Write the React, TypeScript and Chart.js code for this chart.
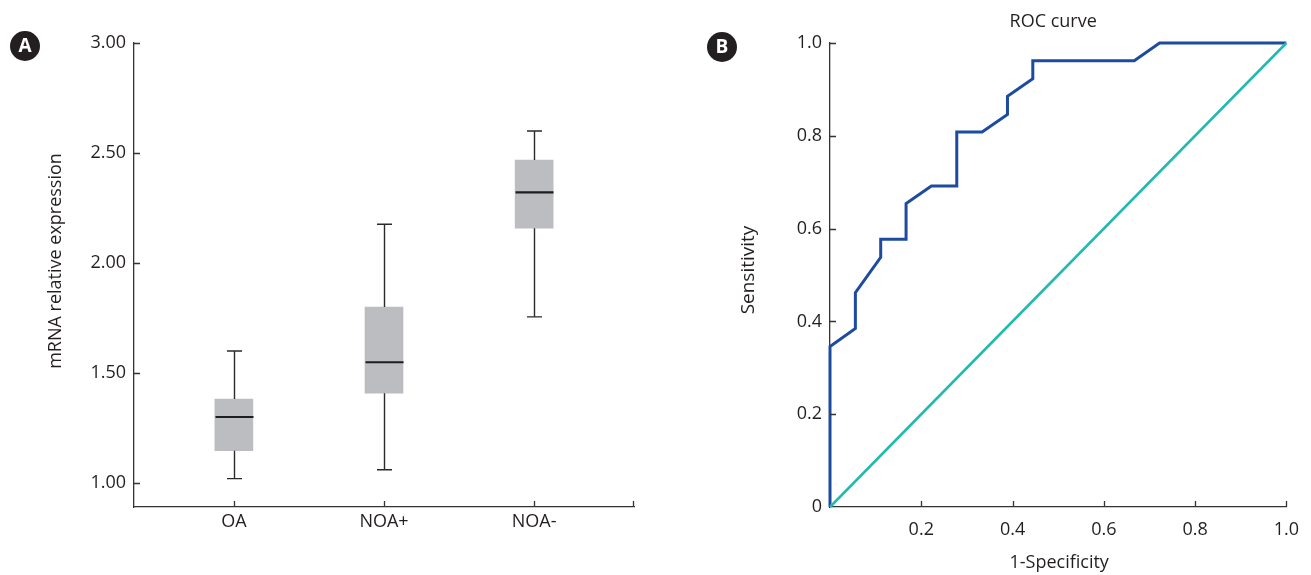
import React, { useEffect, useRef } from "react";
import { Chart, registerables } from "chart.js";
Chart.register(...registerables);

const FONT = '"Open Sans", "Noto Sans", sans-serif';
const TEXT = "#231f20";
const AXIS = "#333333";

// Panel A: box plot
const groups = ["OA", "NOA+", "NOA-"];
const groupPos = [1, 2, 3];
const whiskerLow = [1.02, 1.06, 1.755];
const q1 = [1.147, 1.408, 2.158];
const median = [1.3, 1.549, 2.321];
const q3 = [1.382, 1.8, 2.468];
const whiskerHigh = [1.6, 2.176, 2.6];
const boxTicks = [1.0, 1.5, 2.0, 2.5, 3.0];

// Panel B: ROC curve
const fpr = [0, 0, 0.0556, 0.0556, 0.1111, 0.1111, 0.1667, 0.1667, 0.2222, 0.2778, 0.2778, 0.3333, 0.3889, 0.3889, 0.4444, 0.4444, 0.6667, 0.7222, 1.0];
const tpr = [0, 0.346, 0.385, 0.462, 0.538, 0.577, 0.577, 0.654, 0.692, 0.692, 0.808, 0.808, 0.846, 0.885, 0.923, 0.962, 0.962, 1.0, 1.0];
const chanceX = [0, 1];
const chanceY = [0, 1];
const rocYTicks = [0, 0.2, 0.4, 0.6, 0.8, 1.0];
const rocXTicks = [0.2, 0.4, 0.6, 0.8, 1.0];

function inwardTicksPlugin(xVals: () => number[], yVals: () => number[], extraRightTick: boolean) {
  return {
    id: "inwardTicks",
    afterDraw(chart: any) {
      const { ctx, chartArea: ca } = chart;
      const xs = chart.scales.x;
      const ys = chart.scales.y;
      ctx.save();
      ctx.strokeStyle = AXIS;
      ctx.lineWidth = 1.3;
      ctx.beginPath();
      for (const v of xVals()) {
        const px = Math.round(xs.getPixelForValue(v)) + 0.5;
        ctx.moveTo(px, ca.bottom);
        ctx.lineTo(px, ca.bottom - 6);
      }
      if (extraRightTick) {
        const px = Math.round(ca.right) - 0.5;
        ctx.moveTo(px, ca.bottom);
        ctx.lineTo(px, ca.bottom - 6);
      }
      for (const v of yVals()) {
        const py = Math.round(ys.getPixelForValue(v)) + 0.5;
        ctx.moveTo(ca.left, py);
        ctx.lineTo(ca.left + 6, py);
      }
      ctx.stroke();
      ctx.restore();
    },
  };
}

function panelLabel(ctx: CanvasRenderingContext2D, letter: string, cx: number, cy: number) {
  ctx.save();
  ctx.fillStyle = "#231f20";
  ctx.beginPath();
  ctx.arc(cx, cy, 15, 0, Math.PI * 2);
  ctx.fill();
  ctx.fillStyle = "#ffffff";
  ctx.font = `bold 19px ${FONT}`;
  ctx.textAlign = "center";
  ctx.textBaseline = "middle";
  ctx.fillText(letter, cx, cy + 1);
  ctx.restore();
}

function BoxChart() {
  const ref = useRef<HTMLCanvasElement>(null);
  useEffect(() => {
    const canvas = ref.current!;
    const whiskerPlugin = {
      id: "whiskers",
      afterDatasetsDraw(chart: any) {
        const { ctx } = chart;
        const xs = chart.scales.x;
        const ys = chart.scales.y;
        ctx.save();
        for (let i = 0; i < groupPos.length; i++) {
          const px = Math.round(xs.getPixelForValue(groupPos[i])) + 0.5;
          const yLo = ys.getPixelForValue(whiskerLow[i]);
          const yQ1 = ys.getPixelForValue(q1[i]);
          const yQ3 = ys.getPixelForValue(q3[i]);
          const yHi = ys.getPixelForValue(whiskerHigh[i]);
          const yMed = ys.getPixelForValue(median[i]);
          ctx.strokeStyle = "#2a2a2a";
          ctx.lineWidth = 1.4;
          ctx.beginPath();
          ctx.moveTo(px, yLo);
          ctx.lineTo(px, yQ1);
          ctx.moveTo(px, yQ3);
          ctx.lineTo(px, yHi);
          ctx.moveTo(px - 7.5, yLo);
          ctx.lineTo(px + 7.5, yLo);
          ctx.moveTo(px - 7.5, yHi);
          ctx.lineTo(px + 7.5, yHi);
          ctx.stroke();
          ctx.strokeStyle = "#1e1e1e";
          ctx.lineWidth = 2.2;
          ctx.beginPath();
          ctx.moveTo(px - 19, yMed);
          ctx.lineTo(px + 19, yMed);
          ctx.stroke();
        }
        ctx.restore();
      },
    };
    const textPlugin = {
      id: "texts",
      afterDraw(chart: any) {
        const { ctx } = chart;
        ctx.save();
        ctx.fillStyle = TEXT;
        ctx.font = `18px ${FONT}`;
        ctx.textAlign = "center";
        ctx.textBaseline = "middle";
        ctx.translate(56, 261);
        ctx.rotate(-Math.PI / 2);
        ctx.fillText("mRNA relative expression", 0, 0);
        ctx.restore();
        panelLabel(ctx, "A", 25, 46);
      },
    };
    const chart = new Chart(canvas, {
      type: "bar",
      data: {
        datasets: [
          {
            data: groupPos.map((p, i) => ({ x: p, y: [q1[i], q3[i]] })) as any,
            backgroundColor: "#bcbdc1",
            borderWidth: 0,
            barThickness: 38,
          },
        ],
      },
      options: {
        animation: false,
        responsive: false,
        layout: { padding: { left: 0, right: 21, top: 43, bottom: 0 } },
        plugins: { legend: { display: false }, tooltip: { enabled: false }, title: { display: false } },
        scales: {
          x: {
            type: "linear",
            offset: false,
            min: 0.335,
            max: 3.665,
            grid: { display: false, drawTicks: false, offset: false },
            border: { display: true, color: AXIS, width: 1.3 },
            afterBuildTicks: (s: any) => {
              s.ticks = groupPos.map((v) => ({ value: v }));
            },
            afterFit: (s: any) => {
              s.height = 68;
            },
            ticks: {
              padding: 4,
              color: TEXT,
              font: { family: FONT, size: 18 },
              callback: (v: any) => groups[groupPos.indexOf(Number(v))] ?? "",
            },
          },
          y: {
            type: "linear",
            min: 0.891,
            max: 3.0,
            grid: { display: false, drawTicks: false },
            border: { display: true, color: AXIS, width: 1.3 },
            afterBuildTicks: (s: any) => {
              s.ticks = boxTicks.map((v) => ({ value: v }));
            },
            afterFit: (s: any) => {
              s.width = 134;
            },
            ticks: {
              padding: 8,
              color: TEXT,
              font: { family: FONT, size: 18 },
              callback: (v: any) => Number(v).toFixed(2),
            },
          },
        },
      },
      plugins: [whiskerPlugin, inwardTicksPlugin(() => groupPos, () => boxTicks, true), textPlugin],
    } as any);
    return () => chart.destroy();
  }, []);
  return <canvas ref={ref} width={655} height={575} style={{ width: 655, height: 575, display: "block" }} />;
}

function RocChart() {
  const ref = useRef<HTMLCanvasElement>(null);
  useEffect(() => {
    const canvas = ref.current!;
    const textPlugin = {
      id: "texts",
      afterDraw(chart: any) {
        const { ctx, chartArea: ca } = chart;
        const cx = (ca.left + ca.right) / 2;
        ctx.save();
        ctx.fillStyle = TEXT;
        ctx.font = `18px ${FONT}`;
        ctx.textAlign = "center";
        ctx.textBaseline = "middle";
        ctx.fillText("ROC curve", cx - 5, 22);
        ctx.fillText("1-Specificity", cx + 1, 563);
        ctx.font = `19px ${FONT}`;
        ctx.translate(94, 270);
        ctx.rotate(-Math.PI / 2);
        ctx.fillText("Sensitivity", 0, 0);
        ctx.restore();
        panelLabel(ctx, "B", 67, 47);
      },
    };
    const chart = new Chart(canvas, {
      type: "scatter",
      data: {
        datasets: [
          {
            data: chanceX.map((x, i) => ({ x, y: chanceY[i] })),
            showLine: true,
            borderColor: "#22b9b1",
            borderWidth: 2.5,
            pointRadius: 0,
            tension: 0,
            clip: false,
          },
          {
            data: fpr.map((x, i) => ({ x, y: tpr[i] })),
            showLine: true,
            borderColor: "#1d4b9f",
            borderWidth: 3,
            pointRadius: 0,
            tension: 0,
            clip: false,
          },
        ],
      },
      options: {
        animation: false,
        responsive: false,
        layout: { padding: { left: 0, right: 19, top: 43, bottom: 0 } },
        plugins: { legend: { display: false }, tooltip: { enabled: false }, title: { display: false } },
        scales: {
          x: {
            type: "linear",
            min: 0,
            max: 1,
            grid: { display: false, drawTicks: false },
            border: { display: true, color: AXIS, width: 1.3 },
            afterBuildTicks: (s: any) => {
              s.ticks = rocXTicks.map((v) => ({ value: v }));
            },
            afterFit: (s: any) => {
              s.height = 68;
            },
            ticks: {
              padding: 12,
              color: TEXT,
              font: { family: FONT, size: 18 },
              callback: (v: any) => Number(v).toFixed(1),
            },
          },
          y: {
            type: "linear",
            min: 0,
            max: 1,
            grid: { display: false, drawTicks: false },
            border: { display: true, color: AXIS, width: 1.3 },
            afterBuildTicks: (s: any) => {
              s.ticks = rocYTicks.map((v) => ({ value: v }));
            },
            afterFit: (s: any) => {
              s.width = 175;
            },
            ticks: {
              padding: 8,
              color: TEXT,
              font: { family: FONT, size: 18 },
              callback: (v: any) => (Number(v) === 0 ? "0" : Number(v).toFixed(1)),
            },
          },
        },
      },
      plugins: [inwardTicksPlugin(() => rocXTicks, () => rocYTicks.slice(1), false), textPlugin],
    } as any);
    return () => chart.destroy();
  }, []);
  return <canvas ref={ref} width={656} height={575} style={{ width: 656, height: 575, display: "block" }} />;
}

export default function App() {
  return (
    <div style={{ position: "fixed", left: 0, top: 0, width: 1311, height: 575, background: "#ffffff", overflow: "hidden" }}>
      <div style={{ position: "absolute", left: 0, top: 0 }}>
        <BoxChart />
      </div>
      <div style={{ position: "absolute", left: 655, top: 0 }}>
        <RocChart />
      </div>
    </div>
  );
}
